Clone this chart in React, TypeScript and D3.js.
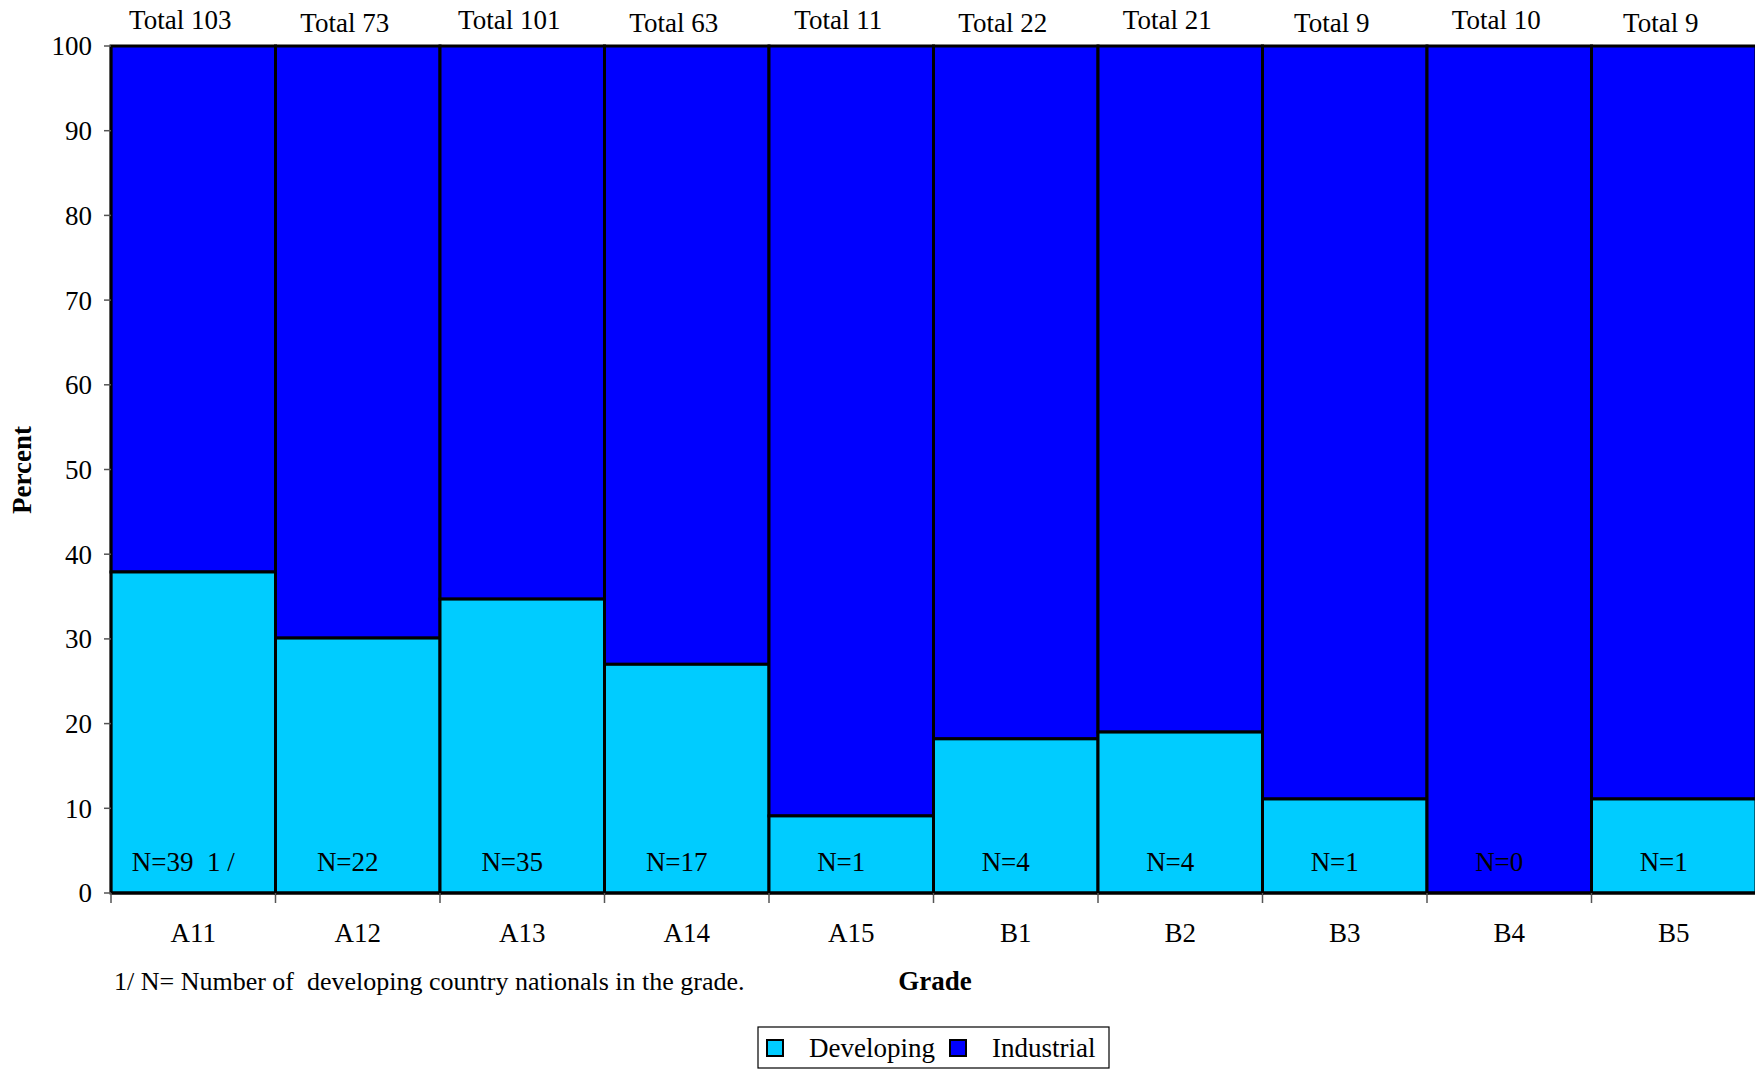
import React from "react";
import * as d3 from "d3";

const grades = ["A11", "A12", "A13", "A14", "A15", "B1", "B2", "B3", "B4", "B5"];
const developingPct = [37.9, 30.1, 34.7, 27.0, 9.1, 18.2, 19.0, 11.1, 0, 11.1];
const industrialPct = [62.1, 69.9, 65.3, 73.0, 90.9, 81.8, 81.0, 88.9, 100, 88.9];
const totals = [103, 73, 101, 63, 11, 22, 21, 9, 10, 9];
const nLabels = ["N=39  1 /", "N=22", "N=35", "N=17", "N=1", "N=4", "N=4", "N=1", "N=0", "N=1"];
const yTicks = [0, 10, 20, 30, 40, 50, 60, 70, 80, 90, 100];

const W = 1755;
const H = 1069;
const M = { left: 111, top: 46, right: 1756, bottom: 893 };
const DEV = "#00CCFF";
const IND = "#0000FF";
const FONT = "'Liberation Serif', 'Times New Roman', serif";
const FS = 27;

export default function App() {
  const x = d3.scaleBand<string>().domain(grades).range([M.left, M.right]).padding(0);
  const y = d3.scaleLinear().domain([0, 100]).range([M.bottom, M.top]);
  const bw = x.bandwidth();

  return (
    <div style={{ position: "absolute", left: 0, top: 0 }}>
      <svg width={W} height={H} style={{ display: "block", background: "#fff" }} fontFamily={FONT}>
        {grades.map((g, i) => {
          const x0 = x(g)!;
          const d = developingPct[i];
          const ind = industrialPct[i];
          return (
            <g key={g}>
              <rect x={x0} y={y(d + ind)} width={bw} height={y(d) - y(d + ind)} fill={IND} stroke="#000" strokeWidth={3} />
              {d > 0 && (
                <rect x={x0} y={y(d)} width={bw} height={y(0) - y(d)} fill={DEV} stroke="#000" strokeWidth={3} />
              )}
            </g>
          );
        })}
        <line x1={M.left} x2={M.right} y1={y(0)} y2={y(0)} stroke="#000" strokeWidth={3} />
        <line x1={M.left} x2={M.left} y1={y(0)} y2={y(100)} stroke="#000" strokeWidth={2.5} />
        {yTicks.map((t) => (
          <g key={t}>
            <line x1={M.left - 7} x2={M.left} y1={y(t)} y2={y(t)} stroke="#555" strokeWidth={1.5} />
            <text x={M.left - 19} y={y(t)} dy="0.35em" textAnchor="end" fontSize={FS} fill="#000">
              {t}
            </text>
          </g>
        ))}
        {grades.map((g) => (
          <line key={g} x1={x(g)!} x2={x(g)!} y1={y(0)} y2={y(0) + 10} stroke="#555" strokeWidth={1.5} />
        ))}
        {grades.map((g) => (
          <text key={g} x={x(g)! + bw / 2} y={933} dy="0.35em" textAnchor="middle" fontSize={FS} fill="#000">
            {g}
          </text>
        ))}
        {grades.map((g, i) => (
          <text key={g} x={x(g)! + bw / 2 - 13} y={i % 2 === 0 ? 20 : 23} dy="0.35em" textAnchor="middle" fontSize={FS} fill="#000">
            {`Total ${totals[i]}`}
          </text>
        ))}
        {grades.map((g, i) => (
          <text key={g} x={x(g)! + bw / 2 - 10} y={862} dy="0.35em" textAnchor="middle" fontSize={FS} fill="#000" style={{ whiteSpace: "pre" }}>
            {nLabels[i]}
          </text>
        ))}
        <text x={935} y={981} dy="0.35em" textAnchor="middle" fontSize={FS} fontWeight="bold" fill="#000">
          Grade
        </text>
        <text transform={`translate(22,470) rotate(-90)`} dy="0.35em" textAnchor="middle" fontSize={FS} fontWeight="bold" fill="#000">
          Percent
        </text>
        <text x={114} y={981} dy="0.35em" fontSize={26} fill="#000" style={{ whiteSpace: "pre" }}>
          {"1/ N= Number of  developing country nationals in the grade."}
        </text>
        <g>
          <rect x={758} y={1027} width={351} height={41} fill="#fff" stroke="#000" strokeWidth={1.2} />
          <rect x={767} y={1040} width={16} height={16} fill={DEV} stroke="#000" strokeWidth={2} />
          <text x={809} y={1048} dy="0.35em" fontSize={FS} fill="#000">Developing</text>
          <rect x={950} y={1040} width={16} height={16} fill={IND} stroke="#000" strokeWidth={2} />
          <text x={992} y={1048} dy="0.35em" fontSize={FS} fill="#000">Industrial</text>
        </g>
      </svg>
    </div>
  );
}
